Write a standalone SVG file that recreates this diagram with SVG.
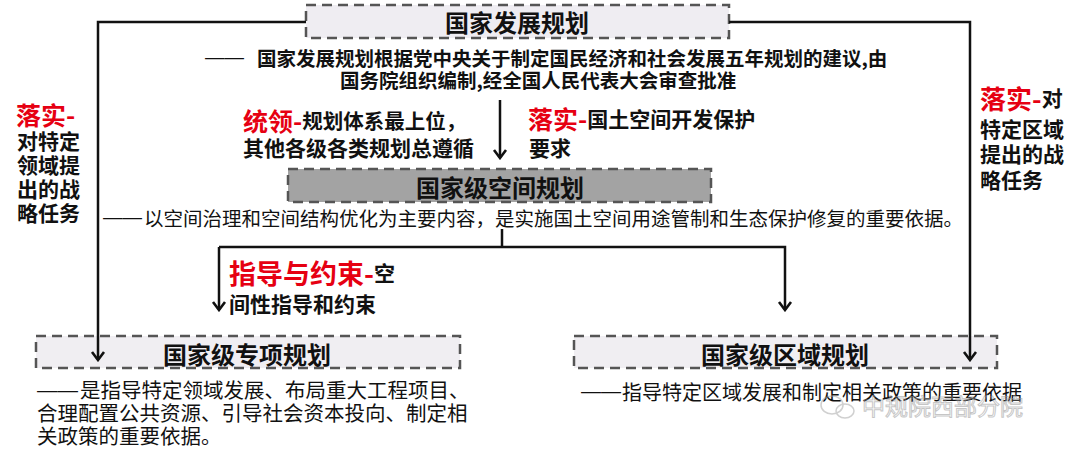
<svg xmlns="http://www.w3.org/2000/svg" width="1080" height="451" viewBox="0 0 1080 451">
<style>
text{font-family:"Noto Sans CJK SC","Noto Sans",sans-serif;dominant-baseline:central;fill:#111}
.b{font-weight:700}
.t{font-weight:700;font-size:24px;text-anchor:middle}
.d{font-size:19.5px}
.r{fill:#e60012;font-weight:700}
.dash{font-family:"Liberation Sans",Arial,sans-serif;font-weight:400}
.box{stroke:#555;stroke-width:2.5;stroke-dasharray:10 6}
.ln{fill:none;stroke:#111;stroke-width:2.5}
</style>
<defs>
<marker id="ah" viewBox="-11 -8 13 16" markerWidth="13" markerHeight="16" refX="0" refY="0" orient="auto" markerUnits="userSpaceOnUse">
<path d="M-8,-6 L0,0 L-8,6" fill="none" stroke="#111" stroke-width="2.6"/>
</marker>
</defs>
<rect width="1080" height="451" fill="#fff"/>
<g id="node-national">
<rect class="box" x="306" y="5" width="423" height="33" fill="#efedf2"/>
<text class="t" x="517" y="21">国家发展规划</text>
<text class="d b" x="205" y="57"><tspan class="dash">——</tspan><tspan x="257">国家发展规划根据党中央关于制定国民经济和社会发展五年规划的建议,由</tspan></text>
<text class="d b" x="340" y="79">国务院组织编制,经全国人民代表大会审查批准</text>
</g>
<g id="label-lead">
<text class="b" x="243" y="120" font-size="20.5"><tspan class="r" font-size="25">统领-</tspan>规划体系最上位，</text>
<text class="b" x="243" y="147" font-size="21">其他各级各类规划总遵循</text>
</g>
<g id="label-implement-top">
<text class="b" x="528" y="118" font-size="21"><tspan class="r" font-size="25">落实-</tspan>国土空间开发保护</text>
<text class="b" x="529" y="147" font-size="21">要求</text>
</g>
<g id="label-left">
<text class="r" x="16" y="114" font-size="25">落实-</text>
<text class="b" x="17" y="140" font-size="21">对特定</text>
<text class="b" x="17" y="164" font-size="21">领域提</text>
<text class="b" x="17" y="188" font-size="21">出的战</text>
<text class="b" x="17" y="212" font-size="21">略任务</text>
</g>
<g id="label-right">
<text class="b" x="980" y="97" font-size="21"><tspan class="r" font-size="26">落实-</tspan>对</text>
<text class="b" x="980" y="128" font-size="21">特定区域</text>
<text class="b" x="980" y="153" font-size="21">提出的战</text>
<text class="b" x="980" y="179" font-size="21">略任务</text>
</g>
<g id="node-spatial">
<rect class="box" x="288" y="169" width="423" height="33" fill="#a3a3a3"/>
<text class="t" x="500" y="186">国家级空间规划</text>
<text class="d" x="103" y="217"><tspan class="dash">——</tspan><tspan x="144">以空间治理和空间结构优化为主要内容，是实施国土空间用途管制和生态保护修复的重要依据。</tspan></text>
</g>
<g id="label-guide">
<text class="b" x="229" y="272" font-size="21"><tspan class="r" font-size="27">指导与约束-</tspan>空</text>
<text class="b" x="229" y="303" font-size="21">间性指导和约束</text>
</g>
<g id="node-special">
<rect class="box" x="36" y="336" width="424" height="32" fill="#f0eef2"/>
<text class="t" x="247" y="353">国家级专项规划</text>
<text x="37" y="389" font-size="20.5"><tspan class="dash">——</tspan><tspan x="80">是指导特定领域发展、布局重大工程项目、</tspan></text>
<text x="37" y="412" font-size="20.5">合理配置公共资源、引导社会资本投向、制定相</text>
<text x="37" y="435" font-size="20.5">关政策的重要依据。</text>
</g>
<g id="node-regional">
<rect class="box" x="574" y="336" width="423" height="32" fill="#f0eef2"/>
<text class="t" x="785" y="353">国家级区域规划</text>
<text x="581" y="391" font-size="20"><tspan class="dash">——</tspan><tspan x="622">指导特定区域发展和制定相关政策的重要依据</tspan></text>
</g>
<g id="watermark" opacity="0.55">
<ellipse cx="832" cy="405" rx="11" ry="9" fill="none" stroke="#aaa" stroke-width="1.5"/>
<ellipse cx="845" cy="411" rx="9" ry="7" fill="none" stroke="#aaa" stroke-width="1.5"/>
<text x="862" y="405" font-size="23" style="fill:none;stroke:#999;stroke-width:1">中规院西部分院</text>
</g>
<g id="connectors">
<polyline class="ln" points="306,22 98,22 98,360" marker-end="url(#ah)"/>
<polyline class="ln" points="729,22 970,22 970,360" marker-end="url(#ah)"/>
<line class="ln" x1="500" y1="100" x2="500" y2="158" marker-end="url(#ah)"/>
<polyline class="ln" points="502,229 502,247"/>
<polyline class="ln" points="219,247 785,247 785,310" marker-end="url(#ah)"/>
<line class="ln" x1="219" y1="247" x2="219" y2="310" marker-end="url(#ah)"/>
</g>
</svg>
